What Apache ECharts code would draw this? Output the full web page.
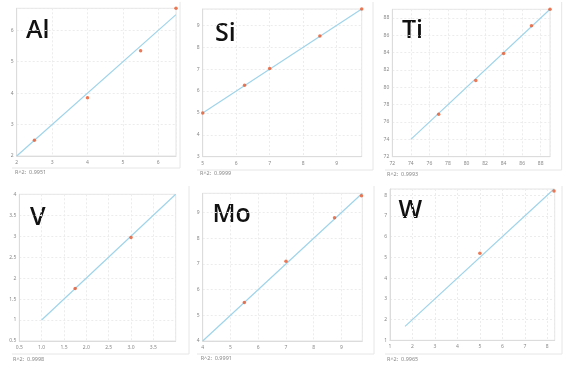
<!DOCTYPE html>
<html>
<head>
<meta charset="utf-8">
<script src="https://cdn.jsdelivr.net/npm/echarts@6/dist/echarts.min.js"></script>
<style>
html,body{margin:0;padding:0;background:#fff;}
#chart{width:572px;height:373px;}
</style>
</head>
<body>
<div id="chart"></div>
<script>
// ---- data ----
const panelNames = ['Al', 'Si', 'Ti', 'V', 'Mo', 'W'];
const r2Values = ['0.9951', '0.9999', '0.9993', '0.9998', '0.9991', '0.9965'];

const alPoints = [[2.5, 2.5], [4, 3.85], [5.5, 5.35], [6.5, 6.7]];
const siPoints = [[5, 5], [6.25, 6.27], [7, 7.03], [8.5, 8.52], [9.75, 9.75]];
const tiPoints = [[77, 76.9], [81, 80.8], [84, 83.9], [87, 87.1], [89, 89]];
const vPoints  = [[1.75, 1.75], [3.0, 2.97]];
const moPoints = [[5.5, 5.5], [7, 7.1], [8.75, 8.8], [9.72, 9.65]];
const wPoints  = [[5, 5.2], [8.3, 8.2]];

const alFit = [[2, 2], [6.5, 6.5]];
const siFit = [[5, 5], [9.75, 9.75]];
const tiFit = [[74, 74], [89, 89]];
const vFit  = [[1, 1], [4, 4]];
const moFit = [[4, 4], [9.75, 9.75]];
const wFit  = [[1.67, 1.67], [8.3, 8.3]];

const xRanges = [[2, 6.5], [5, 9.75], [72, 89], [0.5, 4], [4, 9.75], [1, 8.33]];
const yRanges = [[2, 6.7], [3, 9.75], [72, 89], [0.5, 4], [4, 9.75], [1, 8.3]];
const tickSteps = [1, 1, 2, 0.5, 1, 1];
const xLabelDecimals = [0, 0, 0, 1, 0, 0];

const pointSets = [alPoints, siPoints, tiPoints, vPoints, moPoints, wPoints];
const fitSets = [alFit, siFit, tiFit, vFit, moFit, wFit];

// ---- layout (style only) ----
const gridBoxes = [
  [16.7, 8.3, 176, 156],
  [202.7, 9, 361.7, 156.7],
  [392.3, 9.3, 550, 156.7],
  [19.3, 194.3, 175.7, 341],
  [202.7, 193.3, 362.3, 341],
  [390, 189, 554.7, 340.3]
];
const titlePos = [[26, 30], [215, 33], [402, 30.5], [30, 217], [212.5, 214.5], [398.5, 210.5]];
const r2Pos = [[15, 173], [200, 174], [387, 175], [13, 360], [200.7, 359], [387, 360.5]];
const cardEdges = [
  [12, 180, 2, 168],
  [197, 373, 2, 170],
  [385, 561.7, 2, 170],
  [12, 189, 186, 354],
  [197, 374, 186, 354],
  [385, 562, 186, 354]
];
const yMaxLabelShown = [false, false, false, true, false, false];

const chart = echarts.init(document.getElementById('chart'), null, {renderer: 'canvas'});

const grids = [], xAxes = [], yAxes = [], series = [], graphics = [];
panelNames.forEach((name, i) => {
  const b = gridBoxes[i];
  grids.push({
    left: b[0], top: b[1], width: b[2] - b[0], height: b[3] - b[1],
    show: true, borderColor: '#e4e4e4', borderWidth: 1,
    outerBoundsMode: 'none', containLabel: false
  });
  const labelStyle = {fontSize: 5, color: '#888', fontFamily: 'Noto Sans'};
  const split = {show: true, lineStyle: {color: '#ececec', type: [2, 2], width: 1}};
  xAxes.push({
    type: 'value', gridIndex: i,
    min: xRanges[i][0], max: xRanges[i][1], interval: tickSteps[i],
    axisLine: {show: true, lineStyle: {color: '#dcdcdc'}},
    axisTick: {show: false},
    splitLine: split,
    axisLabel: Object.assign({margin: 4, showMaxLabel: false,
      formatter: v => v.toFixed(xLabelDecimals[i])}, labelStyle)
  });
  yAxes.push({
    type: 'value', gridIndex: i,
    min: yRanges[i][0], max: yRanges[i][1], interval: tickSteps[i],
    axisLine: {show: true, lineStyle: {color: '#dcdcdc'}},
    axisTick: {show: false},
    splitLine: split,
    axisLabel: Object.assign({margin: 3, showMaxLabel: yMaxLabelShown[i]}, labelStyle)
  });
  series.push({
    type: 'line', xAxisIndex: i, yAxisIndex: i,
    data: fitSets[i], showSymbol: false, symbol: 'none',
    lineStyle: {color: '#9fd4ea', width: 1.2}, silent: true, z: 2
  });
  series.push({
    type: 'scatter', xAxisIndex: i, yAxisIndex: i,
    data: pointSets[i], symbol: 'circle', symbolSize: 3.5,
    itemStyle: {color: '#e8582c'}, silent: true, z: 3
  });
  const t = titlePos[i];
  graphics.push({
    type: 'text', left: t[0], top: t[1] - 12,
    style: {text: name, font: '600 25px "Open Sans"', fill: '#111'}
  });
  const r = r2Pos[i];
  graphics.push({
    type: 'text', left: r[0], top: r[1] - 4,
    style: {text: 'R^2:  ' + r2Values[i], font: '5.5px "Noto Sans"', fill: '#888'}
  });
  const e = cardEdges[i];
  graphics.push({
    type: 'line', shape: {x1: e[0], y1: e[3], x2: e[1], y2: e[3]},
    style: {stroke: '#e6e6e6', lineWidth: 1}
  });
  graphics.push({
    type: 'line', shape: {x1: e[1], y1: e[2], x2: e[1], y2: e[3]},
    style: {stroke: '#e6e6e6', lineWidth: 1}
  });
});

chart.setOption({
  backgroundColor: '#fff',
  animation: false,
  grid: grids,
  xAxis: xAxes,
  yAxis: yAxes,
  series: series,
  graphic: graphics
});
</script>
</body>
</html>
